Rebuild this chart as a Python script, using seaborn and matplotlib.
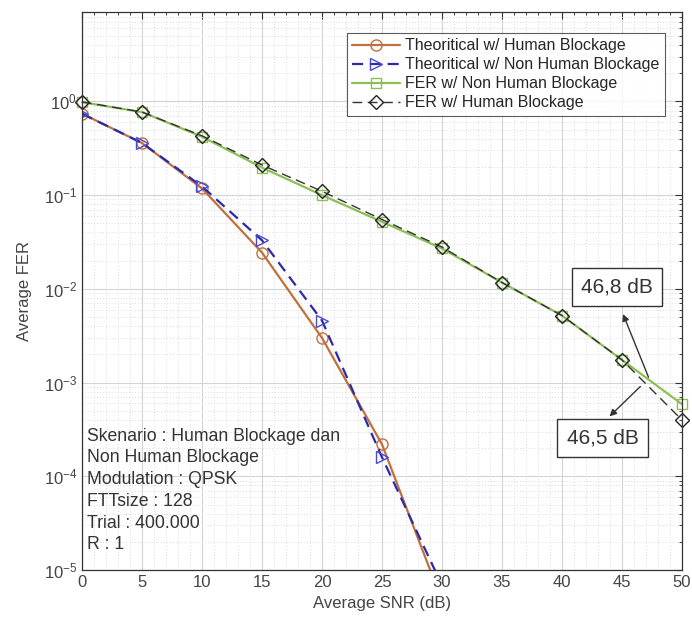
from matplotlib import pyplot as plt
from matplotlib.ticker import LogLocator, NullFormatter
import numpy as np
import pandas as pd
import seaborn as sns

snr = [0, 5, 10, 15, 20, 25, 30, 35, 40, 45, 50]
snr_theory = [0, 5, 10, 15, 20, 25, 30]

theory_human = [0.74, 0.36, 0.118, 0.0244, 0.0030, 2.2e-4, 4.7e-6]
theory_nonhuman = [0.74, 0.36, 0.124, 0.033, 0.0046, 1.6e-4, 6.9e-6]
fer_nonhuman = [0.98, 0.77, 0.42, 0.197, 0.100, 0.052, 0.027, 0.0117, 0.0052, 0.00175, 5.9e-4]
fer_human = [0.99, 0.77, 0.43, 0.21, 0.110, 0.055, 0.028, 0.0117, 0.0052, 0.00175, 4.0e-4]

labels = ["Theoritical w/ Human Blockage", "Theoritical w/ Non Human Blockage",
          "FER w/ Non Human Blockage", "FER w/ Human Blockage"]

info = "Skenario : Human Blockage dan\nNon Human Blockage\nModulation : QPSK\nFTTsize : 128\nTrial : 400.000\nR : 1"

sns.set_style("white")
plt.rcParams['font.family'] = ['Liberation Sans', 'DejaVu Sans']

fig = plt.figure(figsize=(6.92, 6.30), dpi=100)
ax = fig.add_axes([0.1185, 0.095, 0.867, 0.886])
ax.set_yscale("log")

df_th = pd.DataFrame({"snr": snr_theory, "human": theory_human, "nonhuman": theory_nonhuman})
df_fer = pd.DataFrame({"snr": snr, "nonhuman": fer_nonhuman, "human": fer_human})

sns.lineplot(data=df_th, x="snr", y="human", ax=ax, color="#c0703c", lw=1.6,
             marker="o", ms=8, mfc="none", mec="#c0703c", mew=1.0, label=labels[0])
sns.lineplot(data=df_th, x="snr", y="nonhuman", ax=ax, color="#2a2ab0", lw=1.6,
             dashes=(5, 3), marker=">", ms=8, mfc="none", mec="#4a4ad0", mew=1.0, label=labels[1])
sns.lineplot(data=df_fer, x="snr", y="nonhuman", ax=ax, color="#8cbf55", lw=1.6,
             marker="s", ms=7, mfc="none", mec="#8cbf55", mew=1.0, label=labels[2],
             clip_on=False)
sns.lineplot(data=df_fer, x="snr", y="human", ax=ax, color="#333333", lw=1.0,
             dashes=(7, 4), marker="D", ms=7, mfc="none", mec="#222222", mew=1.0, label=labels[3],
             clip_on=False)

ax.set_xlim(0, 50)
ax.set_ylim(1e-5, 9)
ax.set_xticks(snr)
ax.yaxis.set_major_locator(plt.FixedLocator([1e-5, 1e-4, 1e-3, 1e-2, 1e-1, 1e0]))
ax.yaxis.set_minor_locator(LogLocator(base=10, subs=np.arange(2, 10), numticks=20))
ax.yaxis.set_minor_formatter(NullFormatter())
ax.set_xticks(np.arange(0, 51, 1), minor=True)

ax.grid(True, which="major", color="#d4d4d4", lw=0.8)
ax.grid(True, which="minor", color="#dcdcdc", lw=0.7, ls=(0, (1, 2)))
ax.set_axisbelow(True)

ax.tick_params(axis="both", which="major", direction="in", length=5, labelsize=12,
               colors="#333333", top=True, right=True, labelcolor="#444444")
ax.tick_params(axis="both", which="minor", direction="in", length=2, top=True, right=True)
for s in ax.spines.values():
    s.set_color("#333333")
    s.set_linewidth(0.9)

ax.set_xlabel("Average SNR (dB)", fontsize=12, color="#444444", labelpad=4)
ax.set_ylabel("Average FER", fontsize=12, color="#444444", labelpad=8)

leg = ax.legend(loc="upper right", bbox_to_anchor=(0.985, 0.977), fontsize=11.5,
                frameon=True, fancybox=False, edgecolor="#333333", handlelength=3.0,
                borderpad=0.35, labelspacing=0.25, handletextpad=0.3)
leg.get_frame().set_linewidth(0.8)

ax.text(0.4, 3.3e-4, info, fontsize=12.7, color="#333333", va="top", ha="left",
        linespacing=1.36)

ax.annotate("", xy=(45.0, 10**-2.24), xytext=(47.3, 10**-2.97),
            arrowprops=dict(arrowstyle="-|>", color="#333333", lw=1.0, mutation_scale=10))
ax.annotate("", xy=(43.8, 10**-3.38), xytext=(46.7, 10**-3.02),
            arrowprops=dict(arrowstyle="-|>", color="#333333", lw=1.0, mutation_scale=10))
ax.text(44.6, 10**-1.98, "46,8 dB", fontsize=15, ha="center", va="center", color="#333333",
        bbox=dict(boxstyle="square,pad=0.45", fc="white", ec="#333333", lw=1.0))
ax.text(43.4, 10**-3.59, "46,5 dB", fontsize=15, ha="center", va="center", color="#333333",
        bbox=dict(boxstyle="square,pad=0.45", fc="white", ec="#333333", lw=1.0))

fig.savefig("out.png", dpi=100)
